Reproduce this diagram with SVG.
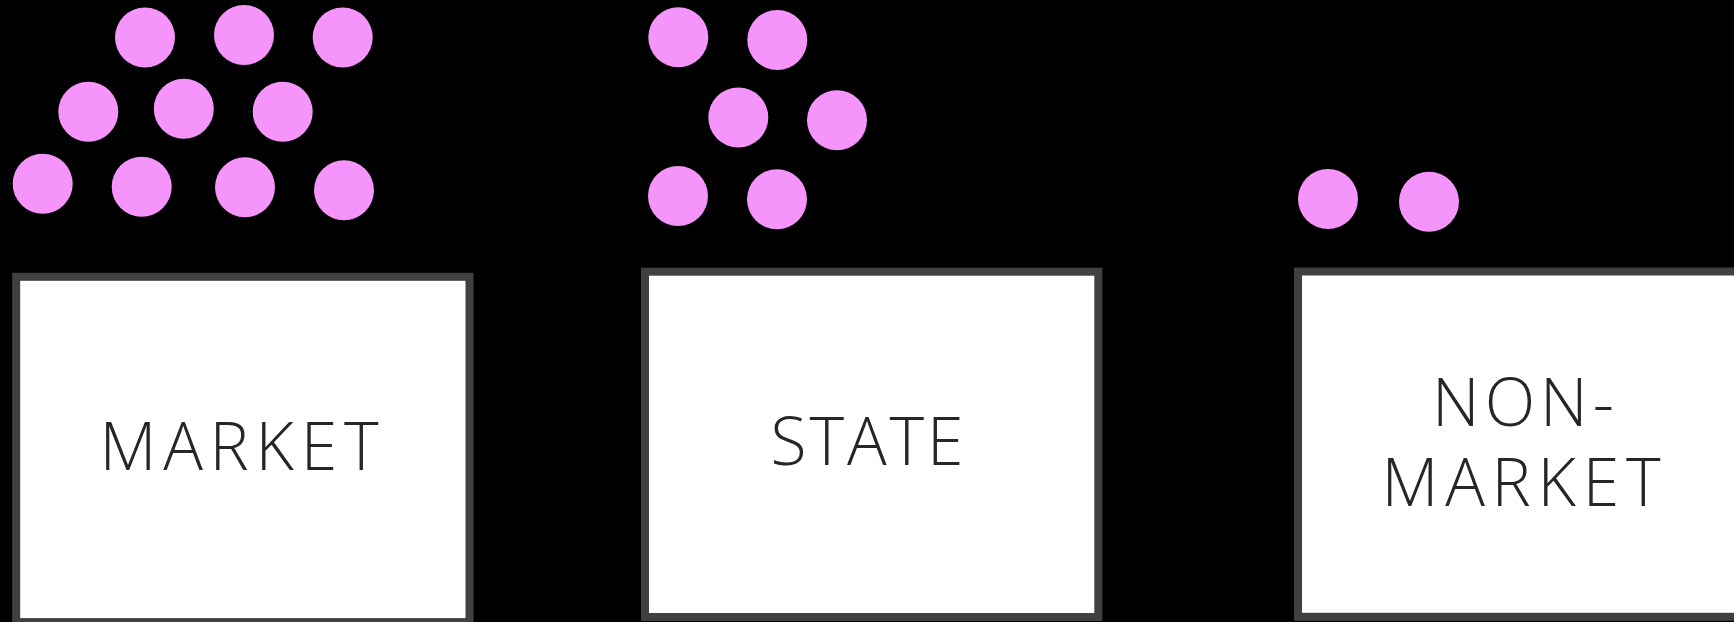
<svg xmlns="http://www.w3.org/2000/svg" width="1734" height="622" viewBox="0 0 1734 622">
<style>
.box{fill:#ffffff;stroke:#404040;stroke-width:8}
.dot{fill:#F594FB}
.lbl{font-family:"Open Sans","Liberation Sans",sans-serif;font-weight:300;font-size:66px;fill:#262626;text-anchor:middle}
</style>
<rect x="0" y="0" width="1734" height="622" fill="#000000"/>
<g id="dots-market">
<circle class="dot" cx="145" cy="37.5" r="30"/>
<circle class="dot" cx="244" cy="35" r="30"/>
<circle class="dot" cx="342.7" cy="37.5" r="30"/>
<circle class="dot" cx="88.3" cy="111.7" r="30"/>
<circle class="dot" cx="183.8" cy="108.7" r="30"/>
<circle class="dot" cx="282.7" cy="111.7" r="30"/>
<circle class="dot" cx="42.7" cy="183.8" r="30"/>
<circle class="dot" cx="141.7" cy="186.7" r="30"/>
<circle class="dot" cx="245" cy="187.3" r="30"/>
<circle class="dot" cx="344" cy="190.3" r="30"/>
</g>
<g id="dots-state">
<circle class="dot" cx="678.3" cy="37.2" r="30"/>
<circle class="dot" cx="777.3" cy="40" r="30"/>
<circle class="dot" cx="738.3" cy="117.5" r="30"/>
<circle class="dot" cx="837" cy="120.3" r="30"/>
<circle class="dot" cx="678" cy="196" r="30"/>
<circle class="dot" cx="777" cy="199.3" r="30"/>
</g>
<g id="dots-nonmarket">
<circle class="dot" cx="1328" cy="199" r="30"/>
<circle class="dot" cx="1429" cy="201.8" r="30"/>
</g>
<g id="node-market">
<rect class="box" x="16.2" y="276.8" width="453.3" height="345.3"/>
<text class="lbl" x="239" y="470" textLength="279" lengthAdjust="spacing">MARKET</text>
</g>
<g id="node-state">
<rect class="box" x="645" y="271.7" width="453.3" height="345.3"/>
<text class="lbl" x="867" y="465" textLength="193" lengthAdjust="spacing">STATE</text>
</g>
<g id="node-nonmarket">
<rect class="box" x="1298" y="271.5" width="453.3" height="345.3"/>
<text class="lbl" x="1523" y="425.7" textLength="182" lengthAdjust="spacing">NON-</text>
<text class="lbl" x="1521" y="506" textLength="279" lengthAdjust="spacing">MARKET</text>
</g>
<g id="connectors"></g>
</svg>
